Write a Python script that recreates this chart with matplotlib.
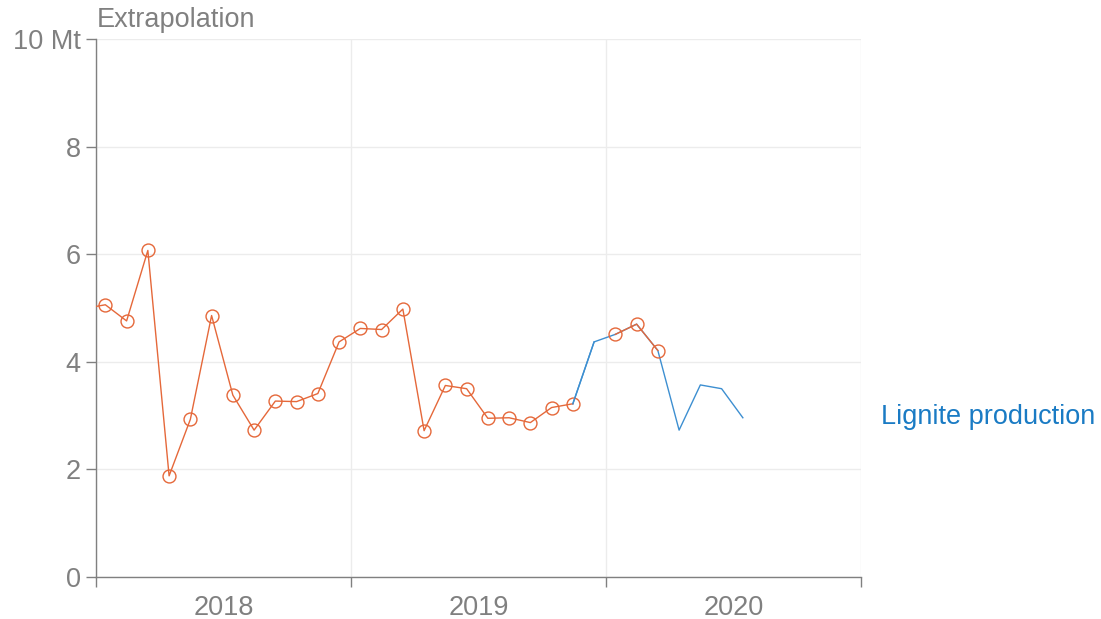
import numpy as np
import matplotlib
matplotlib.use("Agg")
import matplotlib.pyplot as plt

# monthly lignite production, Mt (Dec 2017 .. Nov 2019)
months_hist = ["2017-12",
               "2018-01", "2018-02", "2018-03", "2018-04", "2018-05", "2018-06",
               "2018-07", "2018-08", "2018-09", "2018-10", "2018-11", "2018-12",
               "2019-01", "2019-02", "2019-03", "2019-04", "2019-05", "2019-06",
               "2019-07", "2019-08", "2019-09", "2019-10", "2019-11"]
prod_hist = [4.99,
             5.06, 4.76, 6.07, 1.88, 2.93, 4.86,
             3.38, 2.73, 3.27, 3.26, 3.41, 4.37,
             4.62, 4.60, 4.98, 2.72, 3.56, 3.50,
             2.95, 2.96, 2.87, 3.15, 3.22]

# extrapolation (Nov 2019 .. Jul 2020)
months_extra = ["2019-11", "2019-12", "2020-01", "2020-02", "2020-03",
                "2020-04", "2020-05", "2020-06", "2020-07"]
prod_extra = [3.22, 4.37, 4.51, 4.70, 4.21, 2.73, 3.57, 3.50, 2.96]

# recent actual values (Jan .. Mar 2020)
months_new = ["2020-01", "2020-02", "2020-03"]
prod_new = [4.51, 4.70, 4.21]

years = ["2018", "2019", "2020"]
yticks = [0, 2, 4, 6, 8, 10]
ytick_labels = ["0", "2", "4", "6", "8", "10 Mt"]


def month_pos(m):
    # mid-month position, in months since Jan 2018
    y, mo = m.split("-")
    return (int(y) - 2018) * 12 + int(mo) - 1 + 0.44


orange = "#e5683a"
blue = "#3d8fd1"
gray = "#808080"

plt.rcParams["font.family"] = ["Liberation Sans", "DejaVu Sans"]

fig = plt.figure(figsize=(11.01, 6.19), dpi=100)
ax = fig.add_axes([96 / 1101, 1 - 577 / 619, (861 - 96) / 1101, (577 - 39) / 619])

x_hist = [month_pos(m) for m in months_hist]
x_extra = [month_pos(m) for m in months_extra]
x_new = [month_pos(m) for m in months_new]

ax.plot(x_extra, prod_extra, color=blue, lw=1.0, zorder=3)
ax.plot(x_hist, prod_hist, color=orange, lw=1.0, marker="o", ms=9.3,
        mfc="none", mec=orange, mew=1.0, zorder=4)
ax.plot(x_new, prod_new, color=orange, lw=1.0, marker="o", ms=9.3,
        mfc="none", mec=orange, mew=1.0, zorder=4)
ax.plot(x_extra[:2], prod_extra[:2], color=blue, lw=1.0, zorder=5)

ax.set_xlim(0, 36)
ax.set_ylim(0, 10)

ax.set_yticks(yticks)
ax.set_yticklabels(ytick_labels)
ax.set_xticks([0, 12, 24, 36])
ax.set_xticklabels([])
ax.set_xticks([6, 18, 30], minor=True)
ax.set_xticklabels(years, minor=True)

ax.tick_params(axis="both", which="major", colors=gray, labelsize=19.5,
               length=7, width=1.0)
ax.tick_params(axis="x", which="minor", length=0, labelsize=19.5,
               labelcolor=gray, pad=13)
ax.tick_params(axis="y", pad=4)

ax.grid(True, which="major", color="#ececec", lw=1.0)
ax.set_axisbelow(True)
for s in ["top", "right"]:
    ax.spines[s].set_visible(False)
for s in ["left", "bottom"]:
    ax.spines[s].set_color(gray)
    ax.spines[s].set_linewidth(1.0)

fig.text(97 / 1101, 1 - 20 / 619, "Extrapolation", color=gray, fontsize=19.5,
         ha="left", va="center")
fig.text(881 / 1101, 1 - 417 / 619, "Lignite production", color="#1a7bc4",
         fontsize=19.5, ha="left", va="center")

fig.savefig("out.png", dpi=100)
